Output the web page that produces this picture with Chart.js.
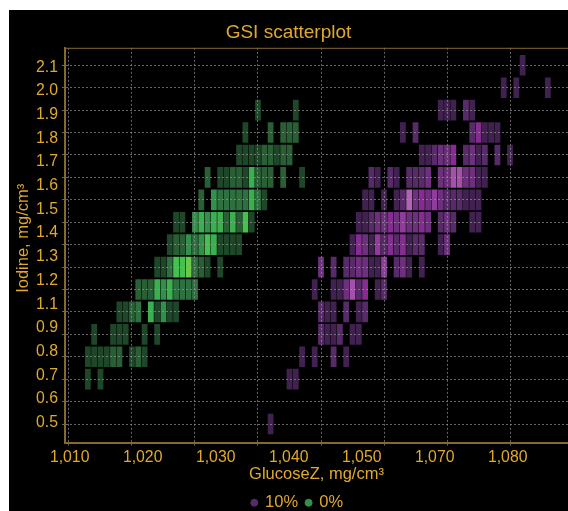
<!DOCTYPE html>
<html>
<head>
<meta charset="utf-8">
<script src="https://cdn.jsdelivr.net/npm/chart.js@4"></script>
<style>
  html, body { margin: 0; background: #fff; overflow: hidden; }
  #wrap { position: absolute; left: 9px; top: 10px; width: 559px; height: 501px; background: #000; }
</style>
</head>
<body>
<div id="wrap"><canvas id="chart" width="559" height="501"></canvas></div>
<script>
// the printed tick labels do not line up with the grid in the original (1,060 and 1.0 are missing)
const xTickLabels = ["1,010", "1,020", "1,030", "1,040", "1,050", "1,070", "1,080"];
const yTickLabels = ["0.5", "0.6", "0.7", "0.8", "0.9", "1.1", "1.2", "1.3", "1.4", "1.5", "1.6", "1.7", "1.8", "1.9", "2.0", "2.1"];
const glucoseGrid = [1010, 1020, 1030, 1040, 1050, 1060, 1070, 1080];
const iodineLevels = [0.5, 0.6, 0.7, 0.8, 0.9, 1.0, 1.1, 1.2, 1.3, 1.4, 1.5, 1.6, 1.7, 1.8, 1.9, 2.0, 2.1];

// one row per iodine level
const greenGlucose = [
  [],
  [],
  [1013, 1015],
  [1013, 1014, 1015, 1016, 1017, 1018, 1020, 1021, 1022],
  [1014, 1017, 1018, 1019, 1022, 1024],
  [1018, 1019, 1020, 1021, 1023, 1024, 1025, 1026, 1027],
  [1021, 1022, 1023, 1024, 1025, 1026, 1027, 1028, 1029, 1030],
  [1024, 1025, 1026, 1027, 1028, 1029, 1030, 1031, 1032, 1034],
  [1026, 1027, 1028, 1029, 1030, 1031, 1032, 1033, 1034, 1035, 1036, 1037],
  [1027, 1028, 1030, 1031, 1032, 1033, 1034, 1035, 1036, 1037, 1038, 1039],
  [1031, 1033, 1034, 1035, 1036, 1037, 1038, 1039, 1040, 1041],
  [1032, 1034, 1035, 1036, 1037, 1038, 1039, 1040, 1041, 1042, 1044, 1047],
  [1037, 1038, 1039, 1040, 1041, 1042, 1043, 1044, 1045],
  [1038, 1042, 1044, 1045, 1046],
  [1040, 1046],
  [],
  []
];
const greenCounts = [
  [],
  [],
  [1, 1],
  [1, 1, 1, 1, 2, 2, 1, 2, 1],
  [1, 1, 1, 1, 1, 1],
  [1, 1, 2, 3, 5, 1, 4, 1, 1],
  [2, 2, 2, 5, 4, 5, 3, 3, 3, 3],
  [1, 1, 3, 6, 6, 7, 3, 2, 1, 1],
  [1, 2, 2, 4, 3, 4, 6, 5, 1, 1, 1, 1],
  [1, 1, 4, 5, 4, 5, 5, 2, 5, 2, 6, 1],
  [2, 4, 3, 3, 3, 3, 3, 5, 3, 1],
  [2, 1, 1, 2, 2, 1, 5, 2, 2, 2, 2, 1],
  [1, 1, 1, 1, 2, 2, 1, 2, 2],
  [1, 2, 2, 2, 2],
  [1, 1],
  [],
  []
];

const purpleGlucose = [
  [1042],
  [],
  [1045, 1046],
  [1047, 1049, 1052, 1054],
  [1050, 1051, 1052, 1053, 1055, 1056],
  [1050, 1051, 1052, 1054, 1056, 1057],
  [1049, 1052, 1053, 1054, 1055, 1056, 1057, 1059, 1060],
  [1050, 1052, 1054, 1055, 1056, 1057, 1058, 1059, 1060, 1062, 1063, 1064, 1066],
  [1055, 1056, 1057, 1058, 1059, 1060, 1061, 1062, 1063, 1064, 1065, 1066, 1069, 1070],
  [1056, 1057, 1058, 1059, 1060, 1061, 1062, 1063, 1064, 1065, 1066, 1067, 1069, 1070, 1071, 1074, 1075],
  [1057, 1058, 1060, 1062, 1063, 1064, 1065, 1066, 1067, 1068, 1069, 1070, 1071, 1072, 1073, 1074, 1075],
  [1058, 1059, 1061, 1062, 1064, 1065, 1066, 1067, 1069, 1070, 1071, 1072, 1073, 1074, 1075, 1076],
  [1066, 1067, 1068, 1069, 1070, 1071, 1073, 1074, 1075, 1076, 1078, 1080],
  [1063, 1065, 1074, 1075, 1076, 1077, 1078],
  [1069, 1070, 1071, 1073, 1074],
  [1079, 1081, 1086],
  [1082]
];
const purpleCounts = [
  [1],
  [],
  [1, 1],
  [1, 1, 2, 1],
  [2, 1, 1, 2, 1, 1],
  [2, 1, 1, 2, 1, 2],
  [1, 1, 1, 3, 6, 2, 4, 1, 2],
  [3, 2, 2, 2, 3, 3, 1, 1, 5, 2, 3, 1, 1],
  [1, 4, 3, 1, 5, 2, 4, 2, 4, 1, 2, 2, 1, 3],
  [1, 1, 2, 3, 3, 4, 3, 5, 3, 3, 4, 3, 2, 3, 2, 1, 1],
  [1, 1, 1, 1, 2, 7, 3, 4, 3, 5, 3, 2, 2, 2, 1, 1, 1],
  [2, 1, 2, 1, 2, 2, 2, 3, 3, 3, 6, 6, 3, 3, 1, 1],
  [1, 1, 2, 3, 3, 4, 2, 3, 1, 2, 2, 1],
  [1, 2, 2, 4, 1, 1, 1],
  [1, 1, 1, 2, 1],
  [1, 1, 1],
  [1]
];

const greenShades = ["#1e4628", "#2a5f36", "#2f7040", "#33904a", "#3cb050", "#46c050", "#6cc848"];
const purpleShades = ["#412150", "#572b67", "#6c307c", "#842c90", "#8f3c9c", "#a550ab", "#b264b4"];
const gold = "#e0a92e";
const axisFont = { family: "Liberation Sans", size: 15.8 };
const axisTitleFont = { family: "Liberation Sans", size: 16.5 };

function buildCells(glucose, counts) {
  const cells = [];
  iodineLevels.forEach((level, row) => {
    glucose[row].forEach((g, i) => {
      cells.push({ x: g, y: [level - 0.046, level + 0.046], n: counts[row][i] });
    });
  });
  return cells;
}

const greenCells = buildCells(greenGlucose, greenCounts);
const purpleCells = buildCells(purpleGlucose, purpleCounts);

// top edge of the frame, and the legend sits right of centre in the original
const framePlugin = {
  id: "framePlugin",
  afterLayout(chart) {
    chart.legend.left += 9;
    chart.legend.right += 9;
  },
  afterDraw(chart) {
    const { ctx, chartArea } = chart;
    ctx.save();
    ctx.strokeStyle = "#85692f";
    ctx.lineWidth = 1;
    ctx.beginPath();
    ctx.moveTo(chartArea.left, chartArea.top + 0.5);
    ctx.lineTo(chartArea.right, chartArea.top + 0.5);
    ctx.stroke();
    ctx.restore();
  }
};

const dashedGrid = {
  color: "rgba(150,150,150,0.68)",
  lineWidth: 1,
  tickLength: 3,
  z: 1
};
const frameBorder = { color: "#85692f", width: 2, dash: [2, 2], z: 2 };

new Chart(document.getElementById("chart").getContext("2d"), {
  type: "bar",
  data: {
    datasets: [
      { label: "10%", data: purpleCells, backgroundColor: c => purpleShades[c.raw ? c.raw.n - 1 : 0] },
      { label: "0%", data: greenCells, backgroundColor: c => greenShades[c.raw ? c.raw.n - 1 : 0] }
    ]
  },
  plugins: [framePlugin],
  options: {
    responsive: false,
    animation: false,
    layout: { padding: { left: 0, right: 0, top: 0, bottom: -10 } },
    datasets: {
      bar: {
        grouped: false,
        barThickness: 5.8,
        borderWidth: 0,
        inflateAmount: 0
      }
    },
    scales: {
      x: {
        type: "linear",
        position: "bottom",
        offset: false,
        min: 1009.37,
        max: 1089.2,
        grid: { ...dashedGrid, offset: false },
        border: frameBorder,
        ticks: { display: false },
        afterBuildTicks: s => { s.ticks = glucoseGrid.map(v => ({ value: v })); },
        afterFit: s => { s.height = 3; }
      },
      xLabels: {
        type: "linear",
        axis: "x",
        position: "bottom",
        offset: false,
        min: -0.064,
        max: 6.826,
        grid: { display: false, drawTicks: false, offset: false },
        border: { display: false },
        afterBuildTicks: s => { s.ticks = xTickLabels.map((t, i) => ({ value: i })); },
        ticks: {
          color: gold,
          font: axisFont,
          padding: 3,
          autoSkip: false,
          maxRotation: 0,
          callback: (v, i) => xTickLabels[i]
        },
        title: { display: true, text: "GlucoseZ, mg/cm³", color: gold, font: axisTitleFont, padding: 2 },
        afterFit: s => { s.height = 41; }
      },
      y: {
        type: "linear",
        position: "left",
        min: 0.4176,
        max: 2.178,
        grid: dashedGrid,
        border: frameBorder,
        ticks: { display: false },
        afterBuildTicks: s => { s.ticks = iodineLevels.map(v => ({ value: v })); },
        afterFit: s => { s.width = 3; }
      },
      yLabels: {
        type: "linear",
        axis: "y",
        position: "left",
        min: -0.835,
        max: 15.82,
        grid: { display: false, drawTicks: false },
        border: { display: false },
        afterBuildTicks: s => { s.ticks = yTickLabels.map((t, i) => ({ value: i })); },
        ticks: {
          color: gold,
          font: axisFont,
          padding: 4,
          autoSkip: false,
          callback: (v, i) => yTickLabels[i]
        },
        title: { display: true, text: "   Iodine, mg/cm³", color: gold, font: axisTitleFont, padding: 5 },
        afterFit: s => { s.width = 53; }
      }
    },
    plugins: {
      title: {
        display: true,
        text: "GSI scatterplot",
        color: gold,
        font: { family: "Liberation Sans", size: 19, weight: "normal" },
        padding: { top: 11, bottom: 4 }
      },
      legend: {
        position: "bottom",
        labels: {
          font: { family: "Liberation Sans", size: 16.5 },
          usePointStyle: true,
          boxWidth: 5,
          boxHeight: 5,
          padding: 8,
          generateLabels: () => [
            { text: "10%", fillStyle: purpleShades[1], strokeStyle: purpleShades[1], fontColor: gold, pointStyle: "circle", datasetIndex: 0 },
            { text: "0%", fillStyle: greenShades[3], strokeStyle: greenShades[3], fontColor: gold, pointStyle: "circle", datasetIndex: 1 }
          ]
        }
      }
    }
  }
});
</script>
</body>
</html>
